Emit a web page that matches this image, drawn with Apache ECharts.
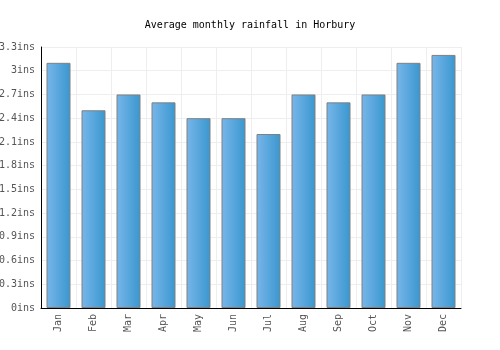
<!DOCTYPE html>
<html>
<head>
<meta charset="utf-8">
<script src="https://cdn.jsdelivr.net/npm/echarts@6/dist/echarts.min.js"></script>
<style>
  html, body { margin: 0; padding: 0; background: #fff; }
  #chart { width: 500px; height: 350px; }
</style>
</head>
<body>
<div id="chart"></div>
<script>
const months = ['Jan', 'Feb', 'Mar', 'Apr', 'May', 'Jun', 'Jul', 'Aug', 'Sep', 'Oct', 'Nov', 'Dec']
const rainfall = [3.1, 2.5, 2.7, 2.6, 2.4, 2.4, 2.2, 2.7, 2.6, 2.7, 3.1, 3.2]
const yMax = 3.3
const yStep = 0.3

const font = 'DejaVu Sans Mono, monospace'
const chart = echarts.init(document.getElementById('chart'))

const option = {
  animation: false,
  title: {
    text: 'Average monthly rainfall in Horbury',
    left: 'center',
    top: 15,
    textStyle: { fontFamily: font, fontSize: 10, fontWeight: 'normal', color: '#000' }
  },
  grid: {
    left: 41, right: 39, top: 47, bottom: 42,
    containLabel: false,
    outerBoundsMode: 'none'
  },
  xAxis: {
    type: 'category',
    data: months,
    boundaryGap: true,
    axisLine: { lineStyle: { color: '#000', width: 1 } },
    axisTick: { show: false },
    splitLine: { show: true, lineStyle: { color: '#eee' } },
    axisLabel: {
      rotate: 90,
      fontFamily: font,
      fontSize: 10,
      color: '#555',
      margin: 6
    }
  },
  yAxis: {
    type: 'value',
    min: 0,
    max: yMax,
    interval: yStep,
    axisLine: { show: true, lineStyle: { color: '#000', width: 1 } },
    axisTick: { show: false },
    splitLine: { lineStyle: { color: '#eee' } },
    axisLabel: {
      fontFamily: font,
      fontSize: 10,
      color: '#555',
      margin: 6,
      formatter: v => parseFloat(v.toFixed(1)) + 'ins'
    }
  },
  series: [
    {
      type: 'bar',
      data: rainfall,
      barWidth: 24,
      itemStyle: {
        color: new echarts.graphic.LinearGradient(0, 0, 1, 0, [
          { offset: 0, color: '#78b6ea' },
          { offset: 1, color: '#3997cf' }
        ]),
        borderColor: '#808080',
        borderWidth: 1
      }
    }
  ]
}
chart.setOption(option)
</script>
</body>
</html>
